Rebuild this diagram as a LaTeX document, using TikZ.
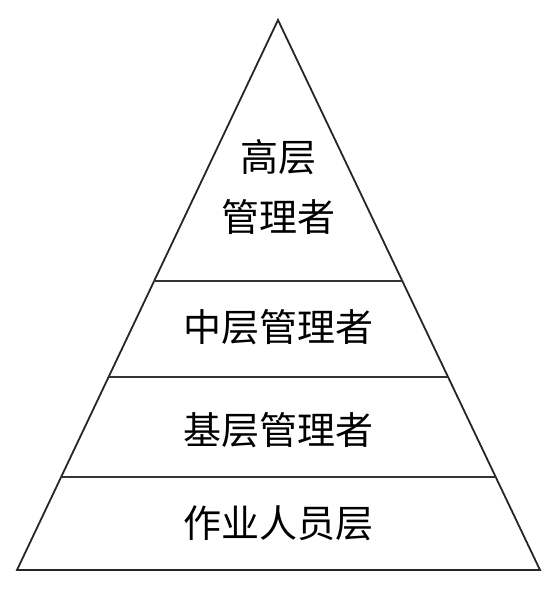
\documentclass[tikz,border=0pt]{standalone}
\usepackage{fontspec}
\newfontfamily\cjk{Noto Sans CJK SC}
\usetikzlibrary{calc}

\begin{document}
\begin{tikzpicture}[
  x=1pt, y=-1pt,
  edge/.style={draw=black!85, line width=1.8pt, line join=miter},
  cut/.style={draw=black!80, line width=1.8pt},
  lvl/.style={font=\cjk\fontsize{38}{60}\selectfont, align=center, text=black, inner sep=0pt},
]
  \useasboundingbox (0,0) rectangle (555,589);

  %% ── Triangle ──
  \coordinate (apex) at (278,20);
  \coordinate (left) at (17,570);
  \coordinate (right) at (540,570);
  \draw[edge] (apex) -- (left) -- (right) -- cycle;

  %% ── Cuts between levels ──
  \foreach \t/\i in {0.4745/1, 0.649/2, 0.8309/3} {
    \draw[cut] ($(apex)!\t!(left)$) coordinate (cut\i w) -- ($(apex)!\t!(right)$) coordinate (cut\i e);
  }

  %% ── Levels ──
  \node[lvl] (high) at (278,187) {高层\\管理者};
  \node[lvl] (mid) at (278,327) {中层管理者};
  \node[lvl] (base) at (278,430) {基层管理者};
  \node[lvl] (work) at (278,523) {作业人员层};
\end{tikzpicture}
\end{document}
